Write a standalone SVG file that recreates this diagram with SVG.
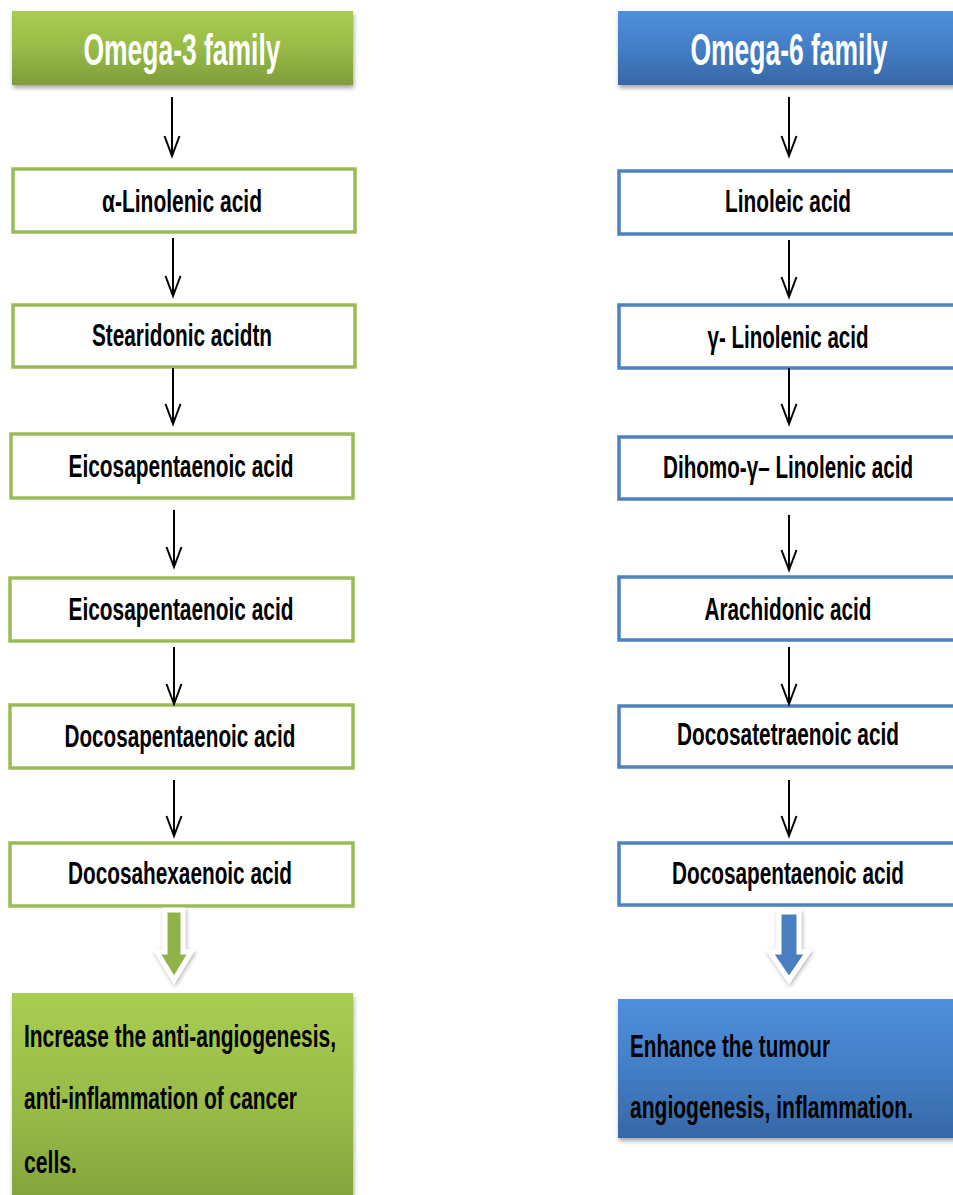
<svg xmlns="http://www.w3.org/2000/svg" width="953" height="1195" viewBox="0 0 953 1195">
  <defs>
    <linearGradient id="gGreen" x1="0" y1="0" x2="0" y2="1">
      <stop offset="0" stop-color="#a9cc52"/>
      <stop offset="0.5" stop-color="#98bb48"/>
      <stop offset="1" stop-color="#7f9d3a"/>
    </linearGradient>
    <linearGradient id="gBlue" x1="0" y1="0" x2="0" y2="1">
      <stop offset="0" stop-color="#4f8fdc"/>
      <stop offset="0.5" stop-color="#437ec6"/>
      <stop offset="1" stop-color="#3767a6"/>
    </linearGradient>
    <filter id="shadow" x="-10%" y="-10%" width="130%" height="130%">
      <feDropShadow dx="1" dy="3" stdDeviation="2" flood-color="#000" flood-opacity="0.35"/>
    </filter>
    <filter id="softShadow" x="-30%" y="-30%" width="160%" height="160%">
      <feDropShadow dx="1" dy="2" stdDeviation="2" flood-color="#000" flood-opacity="0.3"/>
    </filter>
    <marker id="vhead" markerUnits="userSpaceOnUse" markerWidth="24" markerHeight="20" refX="22" refY="8" orient="auto" overflow="visible">
      <path d="M2,0.5 L22,8 L2,15.5" fill="none" stroke="#000" stroke-width="2"/>
    </marker>
    <style>
      .lbl { font-family: "Liberation Sans", Arial, sans-serif; font-weight: bold; font-size: 31px; fill: #000; }
      .head { font-family: "Liberation Sans", Arial, sans-serif; font-weight: bold; font-size: 45px; fill: #fff; }
      .res { font-family: "Liberation Sans", Arial, sans-serif; font-weight: bold; font-size: 31px; fill: #000; }
      .gbox { fill: #fff; stroke: #9bbb59; stroke-width: 3.5; }
      .bbox { fill: #fff; stroke: #4f81bd; stroke-width: 3.5; }
      .conn { stroke: #000; stroke-width: 2; fill: none; }
    </style>
  </defs>

  <rect width="953" height="1195" fill="#fff"/>

  <!-- Omega-3 column -->
  <g id="omega3-header">
    <rect x="12" y="11" width="341" height="74" fill="url(#gGreen)" filter="url(#shadow)"/>
    <text class="head" x="182" y="65" text-anchor="middle" textLength="197" lengthAdjust="spacingAndGlyphs">Omega-3 family</text>
  </g>
  <g id="ala">
    <rect class="gbox" x="13" y="169" width="342" height="63"/>
    <text class="lbl" x="182" y="212" text-anchor="middle" textLength="160" lengthAdjust="spacingAndGlyphs">α-Linolenic acid</text>
  </g>
  <g id="sda">
    <rect class="gbox" x="13" y="305" width="342" height="62"/>
    <text class="lbl" x="182" y="346" text-anchor="middle" textLength="180" lengthAdjust="spacingAndGlyphs">Stearidonic acidtn</text>
  </g>
  <g id="epa1">
    <rect class="gbox" x="11" y="434" width="342" height="64"/>
    <text class="lbl" x="181" y="477" text-anchor="middle" textLength="225" lengthAdjust="spacingAndGlyphs">Eicosapentaenoic acid</text>
  </g>
  <g id="epa2">
    <rect class="gbox" x="10" y="578" width="343" height="63"/>
    <text class="lbl" x="181" y="620" text-anchor="middle" textLength="225" lengthAdjust="spacingAndGlyphs">Eicosapentaenoic acid</text>
  </g>
  <g id="dpa3">
    <rect class="gbox" x="10" y="705" width="343" height="63"/>
    <text class="lbl" x="180" y="747" text-anchor="middle" textLength="231" lengthAdjust="spacingAndGlyphs">Docosapentaenoic acid</text>
  </g>
  <g id="dha">
    <rect class="gbox" x="10" y="843" width="343" height="63"/>
    <text class="lbl" x="180" y="884" text-anchor="middle" textLength="224" lengthAdjust="spacingAndGlyphs">Docosahexaenoic acid</text>
  </g>
  <g id="omega3-effect">
    <rect x="12" y="993" width="341" height="230" fill="url(#gGreen)" filter="url(#shadow)"/>
    <text class="res" x="24" y="1047" textLength="312" lengthAdjust="spacingAndGlyphs">Increase the anti-angiogenesis,</text>
    <text class="res" x="24" y="1109" textLength="273" lengthAdjust="spacingAndGlyphs">anti-inflammation of cancer</text>
    <text class="res" x="24" y="1173" textLength="53" lengthAdjust="spacingAndGlyphs">cells.</text>
  </g>

  <!-- Omega-6 column (runs off the right edge) -->
  <g id="omega6-header">
    <rect x="618" y="11" width="338" height="74" fill="url(#gBlue)" filter="url(#shadow)"/>
    <text class="head" x="789" y="65" text-anchor="middle" textLength="197" lengthAdjust="spacingAndGlyphs">Omega-6 family</text>
  </g>
  <g id="la">
    <rect class="bbox" x="619" y="171" width="337" height="63"/>
    <text class="lbl" x="788" y="212" text-anchor="middle" textLength="126" lengthAdjust="spacingAndGlyphs">Linoleic acid</text>
  </g>
  <g id="gla">
    <rect class="bbox" x="619" y="305" width="337" height="63"/>
    <text class="lbl" x="788" y="348" text-anchor="middle" textLength="161" lengthAdjust="spacingAndGlyphs">γ- Linolenic acid</text>
  </g>
  <g id="dgla">
    <rect class="bbox" x="619" y="437" width="337" height="62"/>
    <text class="lbl" x="788" y="478" text-anchor="middle" textLength="250" lengthAdjust="spacingAndGlyphs">Dihomo-γ– Linolenic acid</text>
  </g>
  <g id="aa">
    <rect class="bbox" x="619" y="577" width="337" height="63"/>
    <text class="lbl" x="788" y="620" text-anchor="middle" textLength="167" lengthAdjust="spacingAndGlyphs">Arachidonic acid</text>
  </g>
  <g id="dta">
    <rect class="bbox" x="619" y="706" width="337" height="61"/>
    <text class="lbl" x="788" y="745" text-anchor="middle" textLength="222" lengthAdjust="spacingAndGlyphs">Docosatetraenoic acid</text>
  </g>
  <g id="dpa6">
    <rect class="bbox" x="619" y="843" width="337" height="62"/>
    <text class="lbl" x="788" y="884" text-anchor="middle" textLength="232" lengthAdjust="spacingAndGlyphs">Docosapentaenoic acid</text>
  </g>
  <g id="omega6-effect">
    <rect x="618" y="999" width="338" height="139" fill="url(#gBlue)" filter="url(#shadow)"/>
    <text class="res" x="630" y="1057" textLength="200" lengthAdjust="spacingAndGlyphs">Enhance the tumour</text>
    <text class="res" x="630" y="1118" textLength="283" lengthAdjust="spacingAndGlyphs">angiogenesis, inflammation.</text>
  </g>

  <!-- connectors -->
  <g id="connectors">
    <line class="conn" x1="172" y1="97" x2="172" y2="156" marker-end="url(#vhead)"/>
    <line class="conn" x1="173" y1="238" x2="173" y2="296" marker-end="url(#vhead)"/>
    <line class="conn" x1="173" y1="368" x2="173" y2="424" marker-end="url(#vhead)"/>
    <line class="conn" x1="174" y1="510" x2="174" y2="567" marker-end="url(#vhead)"/>
    <line class="conn" x1="174" y1="647" x2="174" y2="704" marker-end="url(#vhead)"/>
    <line class="conn" x1="174" y1="780" x2="174" y2="836" marker-end="url(#vhead)"/>

    <line class="conn" x1="789" y1="97" x2="789" y2="156" marker-end="url(#vhead)"/>
    <line class="conn" x1="789" y1="240" x2="789" y2="297" marker-end="url(#vhead)"/>
    <line class="conn" x1="789" y1="368" x2="789" y2="424" marker-end="url(#vhead)"/>
    <line class="conn" x1="789" y1="515" x2="789" y2="570" marker-end="url(#vhead)"/>
    <line class="conn" x1="789" y1="647" x2="789" y2="704" marker-end="url(#vhead)"/>
    <line class="conn" x1="789" y1="780" x2="789" y2="836" marker-end="url(#vhead)"/>

    <!-- block arrows leading to the effect boxes -->
    <path d="M165,910 L183,910 L183,952 L191,952 L174,980 L157,952 L165,952 Z" fill="#8fb24a" stroke="#fff" stroke-width="5" stroke-linejoin="miter" filter="url(#softShadow)"/>
    <path d="M779,912 L799,912 L799,952 L808,952 L789,980 L770,952 L779,952 Z" fill="#4a7fc0" stroke="#fff" stroke-width="5" stroke-linejoin="miter" filter="url(#softShadow)"/>
  </g>
</svg>
